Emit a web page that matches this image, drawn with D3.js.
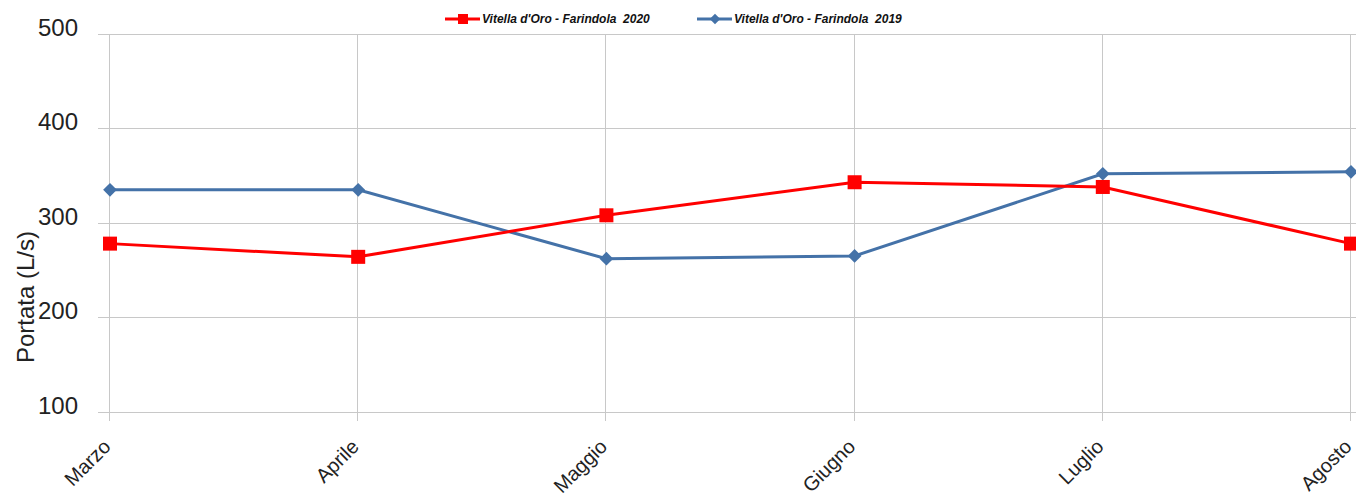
<!DOCTYPE html>
<html lang="it">
<head>
  <meta charset="UTF-8">
  <title>Portata Vitella d'Oro - Farindola</title>
  <style>
    body { margin: 0; background: #fff; font-family: Arial, "Liberation Sans", sans-serif; }
    .grid line { stroke: #c8c8c8; stroke-width: 1; }
  </style>
</head>
<body>
  <div id="chart"></div>

  <script src="https://d3js.org/d3.v7.min.js"></script>
  <script>
    // Dati
    var mesi = ['Marzo', 'Aprile', 'Maggio', 'Giugno', 'Luglio', 'Agosto'];
    var portata2020 = [278, 264, 308, 343, 338, 278];
    var portata2019 = [335, 335, 262, 265, 352, 354];
    var yTicks = [100, 200, 300, 400, 500];
    var nome2020 = "Vitella d'Oro - Farindola  2020";
    var nome2019 = "Vitella d'Oro - Farindola  2019";

    var W = 1356, H = 497;
    var x0 = 110, x1 = 1351, yTop = 34, yBot = 411.7;

    var svg = d3.select('#chart')
      .append('svg')
      .attr('width', W)
      .attr('height', H);

    var xScale = d3.scalePoint()
      .domain(mesi)
      .range([x0, x1]);

    var yScale = d3.scaleLinear()
      .domain([100, 500])
      .range([yBot, yTop]);

    // griglia orizzontale
    var grid = svg.append('g').attr('class', 'grid');
    grid.selectAll('.hline')
      .data(yTicks)
      .enter()
      .append('line')
      .attr('x1', 98)
      .attr('x2', W)
      .attr('y1', function(d) { return Math.round(yScale(d)) + 0.5; })
      .attr('y2', function(d) { return Math.round(yScale(d)) + 0.5; });

    // griglia verticale
    grid.selectAll('.vline')
      .data(mesi)
      .enter()
      .append('line')
      .attr('x1', function(d) { return Math.round(xScale(d)) - 0.5; })
      .attr('x2', function(d) { return Math.round(xScale(d)) - 0.5; })
      .attr('y1', yTop)
      .attr('y2', 421);

    // etichette asse y
    svg.append('g')
      .selectAll('text')
      .data(yTicks)
      .enter()
      .append('text')
      .attr('x', 78)
      .attr('y', function(d) { return yScale(d) + 2; })
      .attr('text-anchor', 'end')
      .attr('font-size', 24)
      .attr('fill', '#222')
      .text(function(d) { return d; });

    svg.append('text')
      .attr('transform', 'translate(34,297) rotate(-90)')
      .attr('text-anchor', 'middle')
      .attr('font-size', 24)
      .attr('fill', '#222')
      .text('Portata (L/s)');

    // etichette asse x
    svg.append('g')
      .selectAll('text')
      .data(mesi)
      .enter()
      .append('text')
      .attr('transform', function(d) {
        return 'translate(' + (xScale(d) - 3) + ',443) rotate(-45)';
      })
      .attr('text-anchor', 'end')
      .attr('dy', '0.35em')
      .attr('font-size', 20)
      .attr('fill', '#222')
      .text(function(d) { return d; });

    var line = d3.line()
      .x(function(d, i) { return xScale(mesi[i]); })
      .y(function(d) { return yScale(d); });

    var blu = '#4472A8', rosso = '#FF0000';

    // serie 2019
    svg.append('path')
      .datum(portata2019)
      .attr('fill', 'none')
      .attr('stroke', blu)
      .attr('stroke-width', 3)
      .attr('d', line);

    svg.selectAll('.p2019')
      .data(portata2019)
      .enter()
      .append('path')
      .attr('class', 'p2019')
      .attr('d', d3.symbol().type(d3.symbolDiamond2).size(120))
      .attr('transform', function(d, i) {
        return 'translate(' + xScale(mesi[i]) + ',' + yScale(d) + ')';
      })
      .attr('fill', blu);

    // serie 2020
    svg.append('path')
      .datum(portata2020)
      .attr('fill', 'none')
      .attr('stroke', rosso)
      .attr('stroke-width', 3)
      .attr('d', line);

    svg.selectAll('.p2020')
      .data(portata2020)
      .enter()
      .append('rect')
      .attr('class', 'p2020')
      .attr('x', function(d, i) { return xScale(mesi[i]) - 7; })
      .attr('y', function(d) { return yScale(d) - 7; })
      .attr('width', 14)
      .attr('height', 14)
      .attr('fill', rosso);

    // legenda
    var legenda = [
      { nome: nome2020, colore: rosso, x: 445, tipo: 'square' },
      { nome: nome2019, colore: blu, x: 697, tipo: 'diamond' }
    ];
    var lg = svg.append('g').selectAll('g')
      .data(legenda)
      .enter()
      .append('g')
      .attr('transform', function(d) { return 'translate(' + d.x + ',19)'; });

    lg.append('line')
      .attr('x1', 0).attr('x2', 35)
      .attr('y1', 0).attr('y2', 0)
      .attr('stroke', function(d) { return d.colore; })
      .attr('stroke-width', 3);

    lg.append('path')
      .attr('d', function(d) {
        return d.tipo === 'square'
          ? d3.symbol().type(d3.symbolSquare).size(100)()
          : d3.symbol().type(d3.symbolDiamond2).size(70)();
      })
      .attr('transform', 'translate(18,0)')
      .attr('fill', function(d) { return d.colore; });

    lg.append('text')
      .attr('x', 37)
      .attr('y', 4)
      .attr('font-size', 12)
      .attr('font-weight', 'bold')
      .attr('font-style', 'italic')
      .attr('fill', '#111')
      .attr('xml:space', 'preserve')
      .style('white-space', 'pre')
      .text(function(d) { return d.nome; });
  </script>
</body>
</html>
